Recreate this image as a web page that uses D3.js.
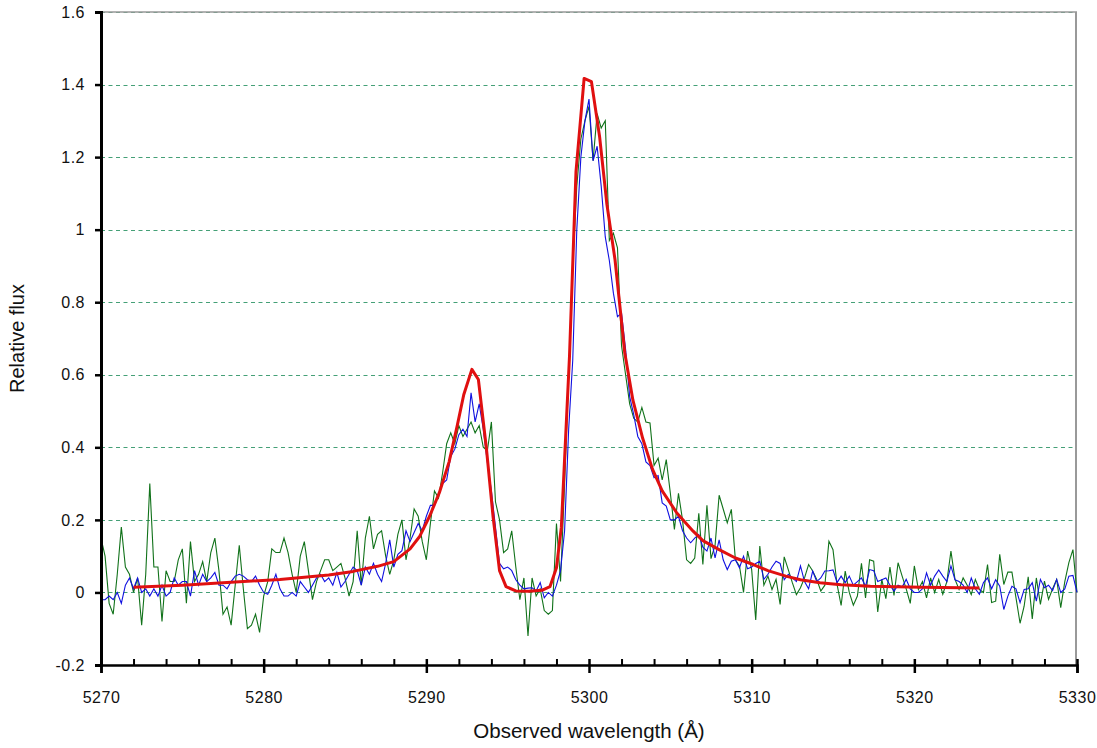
<!DOCTYPE html>
<html>
<head>
<meta charset="utf-8">
<script src="https://cdn.jsdelivr.net/npm/d3@7"></script>
<style>
  html, body { margin: 0; padding: 0; background: #fff; }
  text { font-family: "Liberation Sans", Arial, Helvetica, sans-serif; fill: #111; }
</style>
</head>
<body>
<div id="chart"></div>
<script>
// spectrum sampling (uniform grid, 0.25 A)
const sampleStart = 5270;
const sampleStep = 0.25;

// observed spectrum, green trace
const greenFlux = [
  0.15, 0.10, -0.03, -0.06, 0.05, 0.18, 0.07, 0.05, 0.00, 0.04, -0.09, 0.05, 0.30, 0.07, 0.07, -0.08, 0.06, 0.03, 0.03, 0.09,
  0.12, -0.03, 0.14, 0.03, 0.05, 0.085, 0.03, 0.11, 0.15, 0.06, -0.06, -0.04, -0.09, 0.02, 0.13, 0.01, -0.10, -0.09, -0.06, -0.11,
  -0.01, 0.03, 0.12, 0.11, 0.11, 0.15, 0.11, 0.05, 0.00, 0.10, 0.14, 0.06, -0.02, 0.03, 0.06, 0.09, 0.09, 0.06, 0.07, 0.08,
  0.04, -0.01, 0.03, 0.17, 0.02, 0.15, 0.21, 0.12, 0.16, 0.17, 0.10, 0.05, 0.09, 0.16, 0.20, 0.09, 0.15, 0.23, 0.21, 0.14,
  0.09, 0.19, 0.28, 0.26, 0.33, 0.41, 0.44, 0.41, 0.46, 0.43, 0.45, 0.47, 0.44, 0.46, 0.40, 0.39, 0.47, 0.25, 0.20, 0.11,
  0.12, 0.17, 0.07, -0.02, 0.04, -0.12, 0.04, -0.01, 0.01, -0.05, -0.06, -0.05, 0.19, 0.03, 0.30, 0.60, 0.90, 1.12, 1.25, 1.30,
  1.34, 1.19, 1.32, 1.28, 1.30, 0.97, 0.99, 0.95, 0.68, 0.60, 0.52, 0.48, 0.47, 0.51, 0.47, 0.467, 0.35, 0.37, 0.31, 0.366,
  0.274, 0.174, 0.273, 0.20, 0.09, 0.08, 0.095, 0.218, 0.077, 0.24, 0.093, 0.13, 0.268, 0.23, 0.192, 0.229, 0.09, 0.073, 0.00, 0.114,
  0.063, -0.076, 0.128, 0.02, 0.045, 0.008, 0.036, -0.033, 0.098, 0.063, 0.027, -0.006, 0.013, 0.04, 0.077, 0.059, 0.036, 0.004, 0.02, 0.141,
  0.118, 0.022, -0.036, 0.059, 0.00, -0.035, -0.01, 0.08, -0.015, 0.09, 0.086, -0.054, 0.036, -0.017, 0.07, -0.008, 0.082, 0.045, 0.01, -0.03,
  0.073, 0.008, 0.03, -0.015, 0.04, 0.00, 0.036, -0.005, 0.03, 0.114, 0.036, 0.008, 0.04, 0.02, -0.006, 0.036, 0.008, 0.00, 0.077, -0.028,
  -0.024, 0.105, 0.022, 0.056, 0.056, -0.015, -0.085, -0.038, 0.043, -0.073, 0.04, -0.033, 0.031, -0.019, 0.01, 0.036, -0.042, 0.03, 0.082, 0.118,
  0.00
];

// observed spectrum, blue trace
const blueFlux = [
  -0.02, -0.02, -0.01, -0.02, 0.00, -0.03, 0.02, 0.04, 0.01, 0.04, 0.00, 0.01, -0.01, 0.01, -0.01, 0.02, -0.01, 0.00, 0.04, 0.02,
  0.03, 0.03, -0.01, 0.06, 0.02, 0.05, 0.03, 0.04, 0.055, 0.02, 0.02, 0.01, 0.03, 0.045, 0.05, 0.045, 0.035, 0.03, 0.045, 0.02,
  0.00, -0.005, 0.02, 0.05, 0.01, -0.01, -0.01, 0.00, -0.01, 0.03, 0.015, 0.00, 0.02, 0.04, 0.05, 0.03, 0.04, 0.02, 0.055, 0.015,
  0.03, 0.05, 0.07, 0.06, 0.02, 0.07, 0.05, 0.08, 0.05, 0.03, 0.08, 0.145, 0.07, 0.105, 0.115, 0.17, 0.14, 0.165, 0.19, 0.17,
  0.21, 0.24, 0.24, 0.27, 0.30, 0.31, 0.375, 0.395, 0.435, 0.45, 0.43, 0.55, 0.47, 0.52, 0.45, 0.36, 0.28, 0.18, 0.08, 0.065,
  0.07, 0.06, 0.035, 0.02, 0.01, 0.012, 0.013, 0.004, 0.027, -0.015, 0.00, -0.01, 0.02, 0.06, 0.17, 0.45, 0.64, 1.00, 1.20, 1.30,
  1.36, 1.19, 1.23, 1.12, 0.98, 0.915, 0.825, 0.76, 0.77, 0.67, 0.54, 0.49, 0.43, 0.41, 0.36, 0.35, 0.316, 0.322, 0.247, 0.238,
  0.20, 0.20, 0.21, 0.17, 0.15, 0.137, 0.15, 0.16, 0.125, 0.114, 0.15, 0.095, 0.145, 0.09, 0.063, 0.086, 0.09, 0.068, 0.10, 0.065,
  0.07, 0.08, 0.086, 0.036, 0.05, 0.07, 0.086, 0.08, 0.035, 0.05, 0.04, 0.03, 0.073, 0.03, 0.01, 0.059, 0.03, 0.04, 0.059, 0.06,
  0.062, 0.027, 0.045, 0.027, 0.045, 0.02, 0.03, 0.04, 0.017, 0.063, 0.06, 0.03, 0.035, 0.04, 0.02, 0.004, 0.02, 0.015, 0.036, 0.01,
  0.00, 0.00, 0.01, 0.054, 0.02, 0.045, 0.062, 0.045, 0.03, 0.073, 0.035, 0.03, 0.02, 0.00, 0.04, 0.01, -0.005, 0.027, 0.04, 0.01,
  0.035, 0.017, -0.047, -0.01, 0.017, 0.01, -0.028, 0.008, 0.01, 0.027, -0.024, 0.036, 0.013, 0.02, 0.005, 0.036, 0.00, 0.01, 0.045, 0.047,
  0.00
];

// model fit (red)
const modelWave = [
  5272.0, 5275.0, 5278.0, 5281.0, 5284.0, 5285.5, 5287.0, 5288.0, 5289.0, 5289.6,
  5290.2, 5290.8, 5291.4, 5291.9, 5292.3, 5292.8, 5293.2, 5293.7, 5294.1, 5294.5,
  5294.9, 5295.5, 5296.3, 5297.1, 5297.6, 5298.0, 5298.3, 5298.8, 5299.2, 5299.7,
  5300.15, 5300.65, 5301.1, 5301.6, 5302.2, 5302.7, 5303.3, 5303.9, 5304.5, 5305.4,
  5306.4, 5307.0, 5308.0, 5309.0, 5310.1, 5311.0, 5312.1, 5313.0, 5314.2, 5315.5,
  5317.3, 5320.5, 5324.0
];
const modelFlux = [
  0.014, 0.02, 0.028, 0.036, 0.048, 0.058, 0.072, 0.085, 0.12, 0.155,
  0.21, 0.275, 0.36, 0.46, 0.545, 0.615, 0.587, 0.394, 0.21, 0.06,
  0.016, 0.004, 0.003, 0.006, 0.016, 0.068, 0.18, 0.65, 1.16, 1.417,
  1.408, 1.257, 1.07, 0.917, 0.66, 0.53, 0.425, 0.34, 0.28, 0.219,
  0.169, 0.143, 0.118, 0.095, 0.077, 0.06, 0.045, 0.035, 0.027, 0.021,
  0.017, 0.014, 0.012
];

// axes
const xMajorTicks = [5270, 5280, 5290, 5300, 5310, 5320, 5330];
const xMinorTicks = [5272, 5274, 5276, 5278, 5282, 5284, 5286, 5288, 5292, 5294, 5296, 5298,
  5302, 5304, 5306, 5308, 5312, 5314, 5316, 5318, 5322, 5324, 5326, 5328];
const yTicks = [-0.2, 0, 0.2, 0.4, 0.6, 0.8, 1, 1.2, 1.4, 1.6];
const yTickLabels = ["-0.2", "0", "0.2", "0.4", "0.6", "0.8", "1", "1.2", "1.4", "1.6"];
const gridValues = [0, 0.2, 0.4, 0.6, 0.8, 1, 1.2, 1.4, 1.6];

const margin = { top: 12, right: 20, bottom: 83, left: 101 };
const width = 1077 - margin.left;
const height = 665 - margin.top;

const svg = d3.select("#chart")
  .append("svg")
  .attr("width", 1097)
  .attr("height", 748);

const g = svg.append("g")
  .attr("transform", `translate(${margin.left},${margin.top})`);

const x = d3.scaleLinear().domain([5270, 5330]).range([0, width]);
const y = d3.scaleLinear().domain([-0.2, 1.6]).range([height, 0]);

// gridlines
g.selectAll("line.grid")
  .data(gridValues)
  .enter()
  .append("line")
  .attr("class", "grid")
  .attr("x1", 0)
  .attr("x2", width)
  .attr("y1", d => Math.round(y(d)) + 0.5)
  .attr("y2", d => Math.round(y(d)) + 0.5)
  .attr("stroke", "#45a077")
  .attr("stroke-width", 1)
  .attr("stroke-dasharray", "4,3.5");

// top / right frame
g.append("line")
  .attr("x1", 0).attr("x2", width).attr("y1", 0).attr("y2", 0)
  .attr("stroke", "#999").attr("stroke-width", 1.5);
g.append("line")
  .attr("x1", width - 1).attr("x2", width - 1).attr("y1", 0).attr("y2", height)
  .attr("stroke", "#999").attr("stroke-width", 2);

// series
const sampleData = arr => arr.map((f, i) => ({ w: sampleStart + i * sampleStep, f: f }));

const line = d3.line()
  .x(d => x(d.w))
  .y(d => y(d.f));

g.append("path")
  .datum(sampleData(greenFlux))
  .attr("fill", "none")
  .attr("stroke", "#11721a")
  .attr("stroke-width", 1.1)
  .attr("d", line);

g.append("path")
  .datum(sampleData(blueFlux))
  .attr("fill", "none")
  .attr("stroke", "#1010e0")
  .attr("stroke-width", 1.1)
  .attr("d", line);

g.append("path")
  .datum(modelWave.map((w, i) => ({ w: w, f: modelFlux[i] })))
  .attr("fill", "none")
  .attr("stroke", "#e01010")
  .attr("stroke-width", 3)
  .attr("stroke-linejoin", "round")
  .attr("d", line);

// X axis: minor ticks above, major ticks crossing
g.append("g")
  .attr("transform", `translate(0,${height})`)
  .call(d3.axisTop(x).tickValues(xMinorTicks).tickSize(6).tickFormat(""))
  .call(a => a.select(".domain").remove())
  .selectAll("line").attr("stroke", "#000").attr("stroke-width", 2);

g.append("g")
  .attr("transform", `translate(0,${height})`)
  .call(d3.axisTop(x).tickValues(xMajorTicks).tickSize(6).tickFormat(""))
  .call(a => a.select(".domain").remove())
  .selectAll("line").attr("stroke", "#000").attr("stroke-width", 2.5);

const xAxis = g.append("g")
  .attr("transform", `translate(0,${height})`)
  .call(d3.axisBottom(x).tickValues(xMajorTicks).tickSize(8).tickPadding(19).tickFormat(d3.format("d")));
xAxis.select(".domain").attr("stroke", "#000").attr("stroke-width", 2.5);
xAxis.selectAll("line").attr("stroke", "#000").attr("stroke-width", 2.5);
xAxis.selectAll("text")
  .style("font-size", "16px")
  .style("letter-spacing", "0.5px")
  .style("fill", "#111");

// Y axis
const yAxis = g.append("g")
  .call(d3.axisLeft(y).tickValues(yTicks).tickSize(6).tickPadding(10)
    .tickFormat((d, i) => yTickLabels[i]));
yAxis.select(".domain").attr("stroke", "#000").attr("stroke-width", 3);
yAxis.selectAll("line").attr("stroke", "#000").attr("stroke-width", 2.5);
yAxis.selectAll("text")
  .style("font-size", "16px")
  .style("letter-spacing", "0.5px")
  .style("fill", "#111");

// Axis titles
svg.append("text")
  .attr("transform", `translate(24, ${margin.top + height / 2}) rotate(-90)`)
  .attr("text-anchor", "middle")
  .style("font-size", "20px")
  .text("Relative flux");

svg.append("text")
  .attr("x", margin.left + width / 2)
  .attr("y", 738)
  .attr("text-anchor", "middle")
  .style("font-size", "20.5px")
  .text("Observed wavelength (Å)");
</script>
</body>
</html>
